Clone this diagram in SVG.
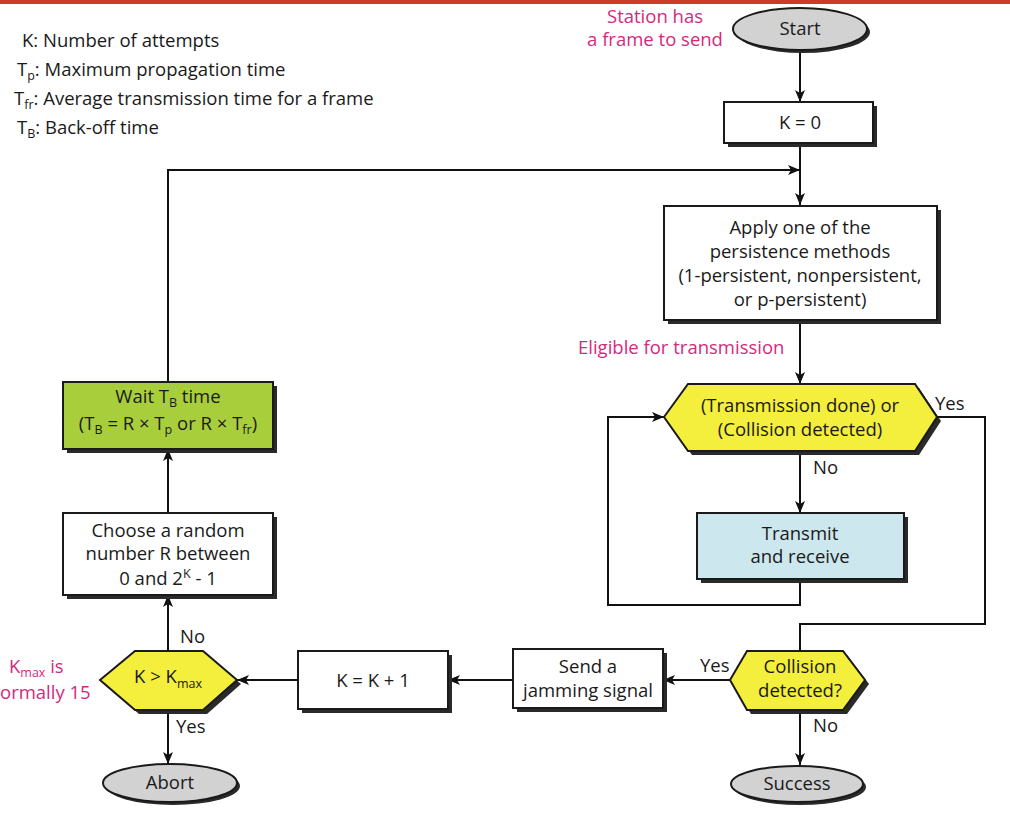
<svg xmlns="http://www.w3.org/2000/svg" width="1010" height="820" viewBox="0 0 1010 820">
<defs>
<marker id="arr" viewBox="0 0 12 10" refX="12" refY="5" markerWidth="12" markerHeight="10" markerUnits="userSpaceOnUse" orient="auto">
<path d="M0,0 L12,5 L0,10 L3,5 z" fill="#111"/>
</marker>
</defs>
<style>
text{font-family:"Open Sans","Liberation Sans",Arial,sans-serif;font-size:18.5px;fill:#1a1a1a}
.c{text-anchor:middle}
.m{fill:#d42a7e}
.sub{font-size:12.5px}
.box{fill:#fff;stroke:#1a1a1a;stroke-width:2}
.sh{fill:#2a2a2a}
.hex{fill:#f4ee3c;stroke:#1a1a1a;stroke-width:2}
.ell{fill:#d2d2d2;stroke:#1a1a1a;stroke-width:2}
.ln{fill:none;stroke:#111;stroke-width:2}
</style>
<rect width="1010" height="820" fill="#fff"/>
<rect x="0" y="0" width="1010" height="4" fill="#cc3a2c"/>

<g id="legend">
<text x="22" y="47">K: Number of attempts</text>
<text x="17" y="76">T<tspan class="sub" dy="4">p</tspan><tspan dy="-4">: Maximum propagation time</tspan></text>
<text x="14" y="105">T<tspan class="sub" dy="4">fr</tspan><tspan dy="-4">: Average transmission time for a frame</tspan></text>
<text x="17" y="134">T<tspan class="sub" dy="4">B</tspan><tspan dy="-4">: Back-off time</tspan></text>
</g>

<g id="notes">
<text class="m c" x="655" y="23">Station has</text>
<text class="m c" x="655" y="46">a frame to send</text>
<text class="m" x="578" y="354">Eligible for transmission</text>
<text class="m" x="9" y="673">K<tspan class="sub m" dy="4">max</tspan><tspan dy="-4"> is</tspan></text>
<text class="m" x="0" y="699">ormally 15</text>
</g>

<g id="connectors">
<line class="ln" x1="800" y1="50" x2="800" y2="102" marker-end="url(#arr)"/>
<line class="ln" x1="800" y1="143" x2="800" y2="205" marker-end="url(#arr)"/>
<polyline class="ln" points="168,382 168,170 800,170" marker-end="url(#arr)"/>
<line class="ln" x1="800" y1="320" x2="800" y2="384" marker-end="url(#arr)"/>
<line class="ln" x1="800" y1="451" x2="800" y2="513" marker-end="url(#arr)"/>
<polyline class="ln" points="800,580 800,605 608,605 608,417 664,417" marker-end="url(#arr)"/>
<polyline class="ln" points="937,417 985,417 985,624 800,624 800,651"/>
<line class="ln" x1="730" y1="680" x2="663" y2="680" marker-end="url(#arr)"/>
<line class="ln" x1="800" y1="710" x2="800" y2="765" marker-end="url(#arr)"/>
<line class="ln" x1="513" y1="680" x2="448" y2="680" marker-end="url(#arr)"/>
<line class="ln" x1="298" y1="680" x2="237" y2="680" marker-end="url(#arr)"/>
<line class="ln" x1="168" y1="651" x2="168" y2="595" marker-end="url(#arr)"/>
<line class="ln" x1="168" y1="513" x2="168" y2="449" marker-end="url(#arr)"/>
<line class="ln" x1="168" y1="710" x2="168" y2="764" marker-end="url(#arr)"/>
<text x="935" y="410">Yes</text>
<text x="813" y="474">No</text>
<text x="700" y="672">Yes</text>
<text x="813" y="732">No</text>
<text x="180" y="643">No</text>
<text x="176" y="733">Yes</text>
</g>

<g id="start">
<ellipse class="sh" cx="803" cy="32" rx="67" ry="21"/>
<ellipse class="ell" cx="800" cy="29" rx="67" ry="21"/>
<text class="c" x="800" y="35">Start</text>
</g>

<g id="k0">
<rect class="sh" x="728" y="106" width="149" height="41"/>
<rect class="box" x="724" y="102" width="149" height="41"/>
<text class="c" x="800" y="129">K = 0</text>
</g>

<g id="persist">
<rect class="sh" x="668" y="210" width="273" height="114"/>
<rect class="box" x="664" y="206" width="273" height="114"/>
<text class="c" x="800" y="234">Apply one of the</text>
<text class="c" x="800" y="258">persistence methods</text>
<text class="c" x="800" y="282">(1-persistent, nonpersistent,</text>
<text class="c" x="800" y="306">or p-persistent)</text>
</g>

<g id="check1">
<polygon class="sh" points="668,421 692,388 919,388 941,421 919,455 692,455"/>
<polygon class="hex" points="664,417 688,384 915,384 937,417 915,451 688,451"/>
<text class="c" x="800" y="412">(Transmission done) or</text>
<text class="c" x="800" y="436">(Collision detected)</text>
</g>

<g id="transmit">
<rect class="sh" x="701" y="517" width="207" height="66"/>
<rect x="697" y="513" width="207" height="66" fill="#cde7ef" stroke="#1a1a1a" stroke-width="2"/>
<text class="c" x="800" y="540">Transmit</text>
<text class="c" x="800" y="563">and receive</text>
</g>

<g id="collision">
<polygon class="sh" points="734,684 751,655 847,655 869,684 847,714 751,714"/>
<polygon class="hex" points="730,680 747,651 843,651 865,680 843,710 747,710"/>
<text class="c" x="800" y="673">Collision</text>
<text class="c" x="800" y="697">detected?</text>
</g>

<g id="success">
<ellipse class="sh" cx="800" cy="787" rx="66" ry="18"/>
<ellipse class="ell" cx="797" cy="784" rx="66" ry="18"/>
<text class="c" x="797" y="790">Success</text>
</g>

<g id="jam">
<rect class="sh" x="517" y="653" width="150" height="59"/>
<rect class="box" x="513" y="649" width="150" height="59"/>
<text class="c" x="588" y="673">Send a</text>
<text class="c" x="588" y="697">jamming signal</text>
</g>

<g id="kinc">
<rect class="sh" x="302" y="655" width="150" height="58"/>
<rect class="box" x="298" y="651" width="150" height="58"/>
<text class="c" x="373" y="687">K = K + 1</text>
</g>

<g id="kmax">
<polygon class="sh" points="104,684 139,655 207,655 241,684 207,714 139,714"/>
<polygon class="hex" points="100,680 135,651 203,651 237,680 203,710 135,710"/>
<text class="c" x="168" y="683">K &gt; K<tspan class="sub" dy="5">max</tspan></text>
</g>

<g id="abort">
<ellipse class="sh" cx="173" cy="786" rx="67" ry="19"/>
<ellipse class="ell" cx="170" cy="783" rx="67" ry="19"/>
<text class="c" x="170" y="789">Abort</text>
</g>

<g id="random">
<rect class="sh" x="67" y="517" width="210" height="82"/>
<rect class="box" x="63" y="513" width="210" height="82"/>
<text class="c" x="168" y="537">Choose a random</text>
<text class="c" x="168" y="560">number R between</text>
<text class="c" x="168" y="585">0 and 2<tspan class="sub" dy="-7">K</tspan><tspan dy="7"> - 1</tspan></text>
</g>

<g id="wait">
<rect class="sh" x="67" y="386" width="210" height="67"/>
<rect x="63" y="382" width="210" height="67" fill="#a8ce3c" stroke="#1a1a1a" stroke-width="2"/>
<text class="c" x="168" y="403">Wait T<tspan class="sub" dy="4">B</tspan><tspan dy="-4"> time</tspan></text>
<text class="c" x="168" y="430">(T<tspan class="sub" dy="4">B</tspan><tspan dy="-4"> = R × T</tspan><tspan class="sub" dy="4">p</tspan><tspan dy="-4"> or R × T</tspan><tspan class="sub" dy="4">fr</tspan><tspan dy="-4">)</tspan></text>
</g>
</svg>
